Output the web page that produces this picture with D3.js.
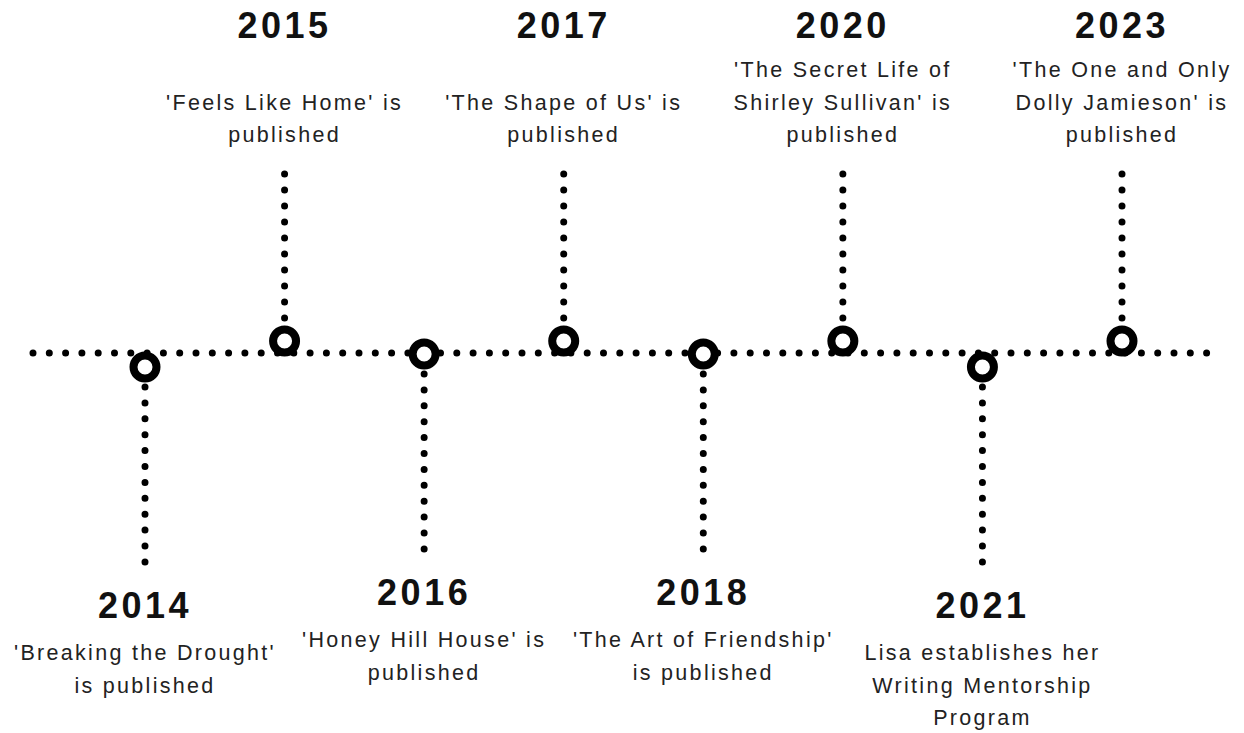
<!DOCTYPE html>
<html>
<head>
<meta charset="utf-8">
<script src="https://cdnjs.cloudflare.com/ajax/libs/d3/7.8.5/d3.min.js"></script>
<style>
  html, body { margin: 0; padding: 0; background: #fff; }
  svg { display: block; }
</style>
</head>
<body>
<div id="chart"></div>
<script>
// timeline data
var years = ['2014', '2015', '2016', '2017', '2018', '2020', '2021', '2023'];
var sides = ['bottom', 'top', 'bottom', 'top', 'bottom', 'top', 'bottom', 'top'];
// -1 = marker sits above the line, 0 = on it, 1 = below it
var markerLevel = [1, -1, 0, -1, 0, -1, 1, -1];
var descriptions = [
  ["'Breaking the Drought'", "is published"],
  ["'Feels Like Home' is", "published"],
  ["'Honey Hill House' is", "published"],
  ["'The Shape of Us' is", "published"],
  ["'The Art of Friendship'", "is published"],
  ["'The Secret Life of", "Shirley Sullivan' is", "published"],
  ["Lisa establishes her", "Writing Mentorship", "Program"],
  ["'The One and Only", "Dolly Jamieson' is", "published"]
];

var width = 1244, height = 733;
var lineY = 353;

var svg = d3.select('#chart').append('svg')
    .attr('width', width)
    .attr('height', height);

var x = d3.scalePoint()
    .domain(years)
    .range([145, 1122]);

var level = d3.scaleLinear()
    .domain([-1, 0, 1])
    .range([lineY - 12, lineY + 1, lineY + 14]);

var events = years.map(function(y, i) {
  return { year: y, side: sides[i], level: markerLevel[i], lines: descriptions[i] };
});

function dotted(sel, gap) {
  return sel.attr('stroke', '#000')
      .attr('stroke-width', 7)
      .attr('stroke-linecap', 'round')
      .attr('stroke-dasharray', '0 ' + gap);
}

// main horizontal line
svg.append('line')
    .attr('x1', 33).attr('x2', 1208)
    .attr('y1', lineY).attr('y2', lineY)
    .call(dotted, 16.3);

var g = svg.selectAll('g.event')
    .data(events)
    .enter().append('g')
    .attr('class', 'event')
    .attr('transform', function(d) { return 'translate(' + x(d.year) + ',0)'; });

// vertical stems
g.append('line')
    .attr('x1', 0).attr('x2', 0)
    .attr('y1', function(d) {
      return d.side === 'top' ? 174 : level(d.level) + 20;
    })
    .attr('y2', function(d) {
      return d.side === 'top' ? 174 + 144.5 : level(d.level) + 20 + 175.5;
    })
    .each(function(d) {
      d3.select(this).call(dotted, d.side === 'top' ? 16 : 15.9);
    });

// markers
g.append('circle')
    .attr('cy', function(d) { return level(d.level); })
    .attr('r', 11.5)
    .attr('fill', '#fff')
    .attr('stroke', '#000')
    .attr('stroke-width', 8);

// year labels
g.append('text')
    .attr('text-anchor', 'middle')
    .attr('y', function(d) {
      return d.side === 'top' ? 38 : level(d.level) + 251;
    })
    .attr('font-family', 'Liberation Sans, Arimo, Arial, sans-serif')
    .attr('font-weight', 'bold')
    .attr('font-size', 36)
    .attr('letter-spacing', 3.5)
    .attr('fill', '#111')
    .text(function(d) { return d.year; });

// descriptions
g.each(function(d) {
  var n = d.lines.length;
  var first = d.side === 'top' ? 142 - (n - 1) * 32.5 : level(d.level) + 293;
  d3.select(this).selectAll('text.desc')
      .data(d.lines)
      .enter().append('text')
      .attr('class', 'desc')
      .attr('text-anchor', 'middle')
      .attr('y', function(t, i) { return first + i * 32.5; })
      .attr('font-family', 'Liberation Sans, Arimo, Arial, sans-serif')
      .attr('font-size', 21.5)
      .attr('letter-spacing', 2.3)
      .attr('fill', '#222')
      .text(function(t) { return t; });
});
</script>
</body>
</html>
